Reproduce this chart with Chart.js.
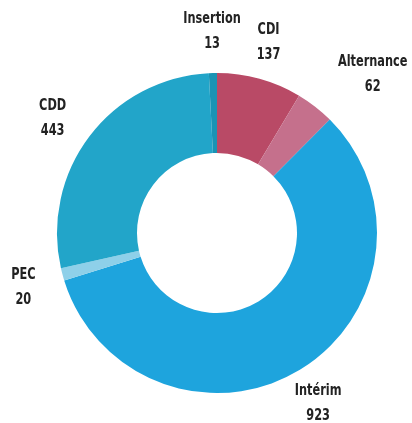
<!DOCTYPE html>
<html>
<head>
<meta charset="utf-8">
<script src="https://cdn.jsdelivr.net/npm/chart.js@4.4.1/dist/chart.umd.min.js"></script>
<style>
html,body{margin:0;padding:0;background:#fff;}
#wrap{width:412px;height:423px;position:relative;}
</style>
</head>
<body>
<div id="wrap"><canvas id="c" width="412" height="423"></canvas></div>
<script>
const categories = ["CDI", "Alternance", "Intérim", "PEC", "CDD", "Insertion"];
const values = [137, 62, 923, 20, 443, 13];
const colors = ["#b94a66", "#c5708c", "#1ea4dd", "#8ed0e9", "#22a5c9", "#1a93b4"];
// label placement: [extra radius, dx, dy] relative to arc mid-angle point
const labelOffsets = [
  [60, -7, 22],
  [40, 33, 0],
  [16, 10, 20],
  [26, -14, 7],
  [40, -5, 6],
  [72, 1, 31]
];

const labelPlugin = {
  id: 'outLabels',
  afterDatasetsDraw(chart) {
    const ctx = chart.ctx;
    const meta = chart.getDatasetMeta(0);
    const sx = 0.84;
    ctx.save();
    ctx.fillStyle = '#222';
    ctx.textAlign = 'center';
    ctx.textBaseline = 'middle';
    ctx.font = 'bold 15px "DejaVu Sans Condensed", "DejaVu Sans", sans-serif';
    meta.data.forEach((arc, i) => {
      const p = arc.getProps(['startAngle', 'endAngle', 'outerRadius', 'x', 'y'], true);
      const mid = (p.startAngle + p.endAngle) / 2;
      const o = labelOffsets[i];
      const r = p.outerRadius + o[0];
      const cx = p.x + Math.cos(mid) * r + o[1];
      const cy = p.y + Math.sin(mid) * r + o[2];
      ctx.save();
      ctx.translate(cx, cy);
      ctx.scale(sx, 1);
      ctx.fillText(categories[i], 0, -12.5);
      ctx.fillText(String(values[i]), 0, 12.5);
      ctx.restore();
    });
    ctx.restore();
  }
};

new Chart(document.getElementById('c'), {
  type: 'doughnut',
  data: {
    labels: categories,
    datasets: [{
      data: values,
      backgroundColor: colors,
      borderWidth: 0
    }]
  },
  options: {
    responsive: false,
    animation: false,
    cutout: '50%',
    rotation: 0,
    layout: { padding: { left: 57, right: 35, top: 73, bottom: 30 } },
    plugins: { legend: { display: false }, tooltip: { enabled: false } }
  },
  plugins: [labelPlugin]
});
</script>
</body>
</html>
